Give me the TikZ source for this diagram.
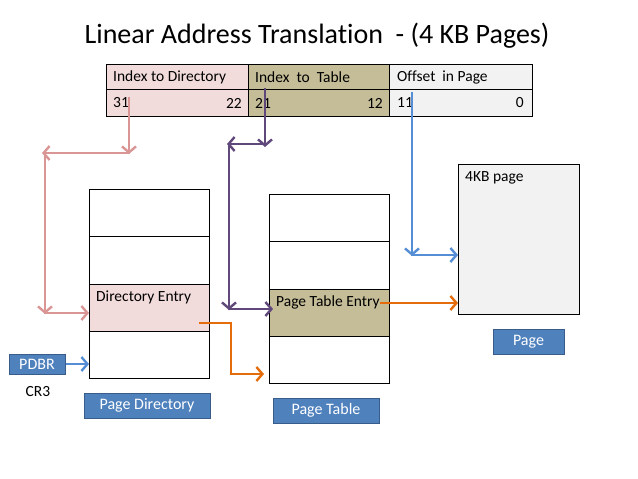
\documentclass[tikz,border=0pt]{standalone}
\usepackage{fontspec}
\setmainfont[RawFeature=-liga]{Carlito}
\usetikzlibrary{arrows.meta}
\definecolor{pinkf}{RGB}{242,220,219}
\definecolor{olivef}{RGB}{196,189,151}
\definecolor{greyf}{RGB}{242,242,242}
\definecolor{pinkl}{RGB}{217,150,148}
\definecolor{purpl}{RGB}{96,73,122}
\definecolor{bluel}{RGB}{85,142,213}
\definecolor{orangel}{RGB}{228,108,10}
\definecolor{labf}{RGB}{79,129,189}
\definecolor{labd}{RGB}{56,93,138}
\begin{document}
\begin{tikzpicture}[x=1pt,y=-1pt,
  cell/.style={draw=black, line width=0.9pt, inner sep=0pt, anchor=north west},
  celltext/.style={inner sep=0pt, anchor=west, font=\fontsize{15.5}{18}\selectfont},
  numtext/.style={inner sep=0pt, font=\fontsize{15.5}{18}\selectfont},
  labbox/.style={fill=labf, draw=labd, line width=1pt, text=white, inner sep=0pt, font=\fontsize{16}{19}\selectfont},
  conn/.style={line width=2.4pt, -{Straight Barb[length=6pt,width=14pt,line width=2.4pt]}},
  pinkar/.style={conn, draw=pinkl},
  purpar/.style={conn, draw=purpl},
  bluear/.style={conn, draw=bluel},
  orangear/.style={conn, draw=orangel}]
\useasboundingbox (0,0) rectangle (638,479);
% title
\node[font=\fontsize{28}{32}\selectfont, anchor=base] (title) at (317,43) {Linear Address Translation \ - (4 KB Pages)};
% address table
\node[cell, fill=pinkf, minimum width=142, minimum height=25] (t1) at (106,64) {};
\node[cell, fill=olivef, minimum width=141, minimum height=25] (t2) at (248,64) {};
\node[cell, fill=greyf, minimum width=143, minimum height=25] (t3) at (389,64) {};
\node[cell, fill=pinkf, minimum width=142, minimum height=27] (b1) at (106,89) {};
\node[cell, fill=olivef, minimum width=141, minimum height=27] (b2) at (248,89) {};
\node[cell, fill=greyf, minimum width=143, minimum height=27] (b3) at (389,89) {};
\node[celltext] (l1) at (113,77) {Index to Directory};
\node[celltext] (l2) at (255,77) {Index \ to \ Table};
\node[celltext] (l3) at (397,77) {Offset \ in Page};
\node[numtext, anchor=west] (n31) at (113,103) {31};
\node[numtext, anchor=east] (n22) at (242,103) {22};
\node[numtext, anchor=west] (n21) at (255,103) {21};
\node[numtext, anchor=east] (n12) at (383,103) {12};
\node[numtext, anchor=west] (n11) at (397,103) {11};
\node[numtext, anchor=east] (n0) at (524,103) {0};
% page directory
\node[cell, minimum width=120, minimum height=47.25] (pd1) at (89,189) {};
\node[cell, minimum width=120, minimum height=47.25] (pd2) at (89,236.25) {};
\node[cell, fill=pinkf, minimum width=120, minimum height=47.25] (pd3) at (89,283.5) {};
\node[cell, minimum width=120, minimum height=47.25] (pd4) at (89,330.75) {};
\node[celltext] (pdt) at (96,297) {Directory Entry};
% page table
\node[cell, minimum width=120, minimum height=47.25] (pt1) at (269,194) {};
\node[cell, minimum width=120, minimum height=47.25] (pt2) at (269,241.25) {};
\node[cell, fill=olivef, minimum width=120, minimum height=47.25] (pt3) at (269,288.5) {};
\node[cell, minimum width=120, minimum height=47.25] (pt4) at (269,335.75) {};
\node[celltext] (ptt) at (276,302) {Page Table Entry};
% page
\node[cell, fill=greyf, minimum width=121, minimum height=150] (pg) at (458,164) {};
\node[celltext] (pgt) at (465,178) {4KB page};
% labels
\node[labbox, minimum width=56, minimum height=20] (pdbr) at (37,364) {PDBR};
\node[numtext] (cr3) at (38,392) {CR3};
\node[labbox, minimum width=126, minimum height=25] (lpd) at (147,405.5) {Page Directory};
\node[labbox, minimum width=106, minimum height=25] (lpt) at (326,410.5) {Page Table};
\node[labbox, minimum width=71, minimum height=25] (lpg) at (528.5,341.5) {Page};
% coordinates
\coordinate (ps) at (129,97);
\coordinate (p1) at (129,154);
\coordinate (p1b) at (130.2,153);
\coordinate (p2) at (42,153);
\coordinate (p2b) at (45,151.8);
\coordinate (p3) at (45,314);
\coordinate (p3b) at (43.8,313);
\coordinate (p4) at (89,313);
\coordinate (us) at (265,88);
\coordinate (u1) at (265,147);
\coordinate (u1b) at (266.2,144);
\coordinate (u2) at (227,144);
\coordinate (u2b) at (229,142.8);
\coordinate (u3) at (229,310);
\coordinate (u3b) at (227.8,309);
\coordinate (u4) at (273,309);
\coordinate (bs) at (412,92);
\coordinate (b1c) at (412,256);
\coordinate (b1d) at (410.8,255);
\coordinate (b2c) at (458,255);
\coordinate (os) at (199,323);
\coordinate (oc1) at (231,323);
\coordinate (oc2) at (231,374);
\coordinate (oe) at (264,374);
\coordinate (o2s) at (380,303);
\coordinate (o2e) at (458,303);
\coordinate (pdbre) at (89,364);
% connectors
\draw[pinkar] (ps) -- (p1);
\draw[pinkar] (p1b) -- (p2);
\draw[pinkar] (p2b) -- (p3);
\draw[pinkar] (p3b) -- (p4);
\draw[purpar] (us) -- (u1);
\draw[purpar] (u1b) -- (u2);
\draw[purpar] (u2b) -- (u3);
\draw[purpar] (u3b) -- (u4);
\draw[bluear] (bs) -- (b1c);
\draw[bluear] (b1d) -- (b2c);
\draw[orangear] (os) -- (oc1) -- (oc2) -- (oe);
\draw[orangear] (o2s) -- (o2e);
\draw[bluear] (pdbr.east) -- (pdbre);
\end{tikzpicture}
\end{document}
